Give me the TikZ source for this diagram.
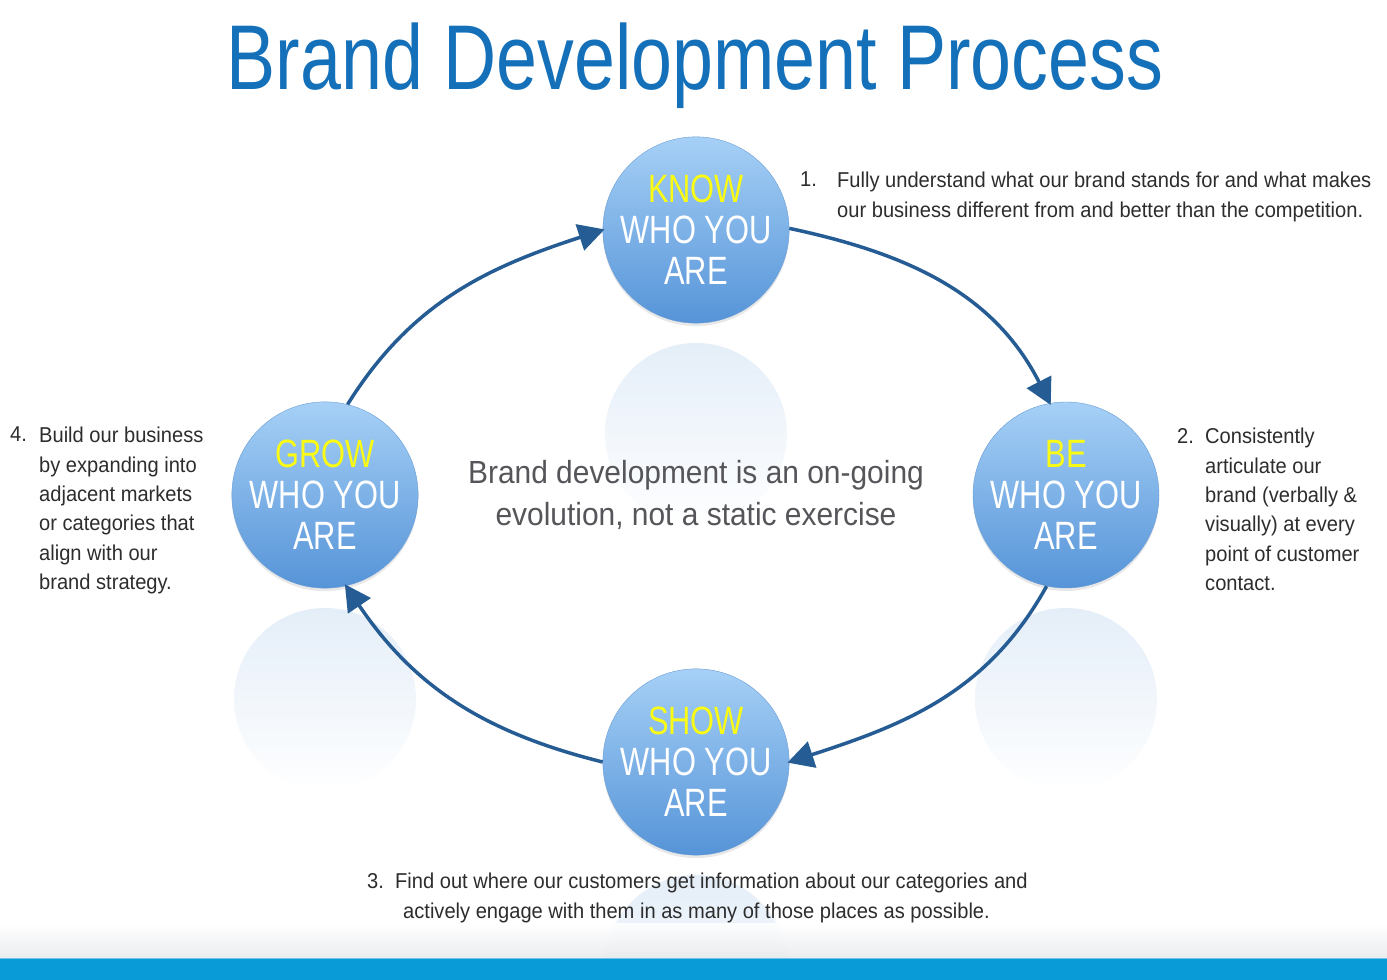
\documentclass[tikz,border=0pt]{standalone}
\usepackage{fontspec}
\setmainfont{Liberation Sans}
\newfontfamily\titlefont[FakeStretch=0.80]{Liberation Sans}
\newfontfamily\stepfont[FakeStretch=0.78]{Liberation Sans}
\newfontfamily\notefont[FakeStretch=0.935]{Liberation Sans}
\usetikzlibrary{arrows.meta,shadows}
\definecolor{bdtitle}{RGB}{20,112,185}
\definecolor{bdflow}{RGB}{38,92,148}
\definecolor{bdtop}{RGB}{166,208,246}
\definecolor{bdbot}{RGB}{86,148,216}
\definecolor{bdline}{RGB}{104,156,214}
\definecolor{bdyellow}{RGB}{250,250,20}
\definecolor{bdnote}{RGB}{45,45,45}
\definecolor{bdmid}{RGB}{85,85,90}
\definecolor{bdbar}{RGB}{8,155,216}
\definecolor{bdbarhi}{RGB}{110,195,232}
\definecolor{bdrefl}{RGB}{222,234,247}
\definecolor{bdfloor}{RGB}{232,234,236}
\newcommand{\hl}[1]{\textcolor{bdyellow}{#1}}
\tikzset{
  bstep/.style={circle, minimum size=186pt, inner sep=0pt, draw=bdline, thin,
    top color=bdtop, bottom color=bdbot, text=white, align=center,
    font=\stepfont\fontsize{39.5}{41}\selectfont,
    drop shadow={opacity=0.18, shadow xshift=0pt, shadow yshift=-3pt}},
  bflow/.style={draw=bdflow, line width=3.5pt, -{Triangle[length=26pt,width=27pt]}, shorten >=-2pt},
  bnote/.style={font=\notefont\fontsize{21.5}{29.4}\selectfont, text=bdnote, inner sep=0pt, anchor=north west, align=left},
  brefl/.style={top color=bdrefl, middle color=white, bottom color=white, opacity=0.8}
}

\begin{document}
\begin{tikzpicture}[x=1pt, y=1pt]
    \useasboundingbox (0,0) rectangle (1387,980);
    \fill[white] (0,0) rectangle (1387,980);
    % reflections
    \foreach \cx/\cy in {696/750, 1066/485, 696/218, 325/485}
      \shade[brefl] (\cx,\cy-204) circle (91);
    % floor and bottom bar
    \shade[top color=white, bottom color=bdfloor, opacity=0.85] (0,22) rectangle (1387,56);
    \fill[bdbar] (0,0) rectangle (1387,22);
    \fill[bdbarhi] (0,20.5) rectangle (1387,22);
    % title
    \node[font=\titlefont\fontsize{92}{100}\selectfont, text=bdtitle, inner sep=0pt] (title) at (695,914) {Brand Development Process};
    % steps
    \node[bstep] (know) at (696,750) {\hl{KNOW}\\WHO YOU\\ARE};
    \node[bstep] (be)   at (1066,485) {\hl{BE}\\WHO YOU\\ARE};
    \node[bstep] (show) at (696,218) {\hl{SHOW}\\WHO YOU\\ARE};
    \node[bstep] (grow) at (325,485) {\hl{GROW}\\WHO YOU\\ARE};
    % cycle
    \draw[bflow] (grow.76) to[out=58, in=198] (know.west);
    \draw[bflow] (know.1) to[out=-12, in=117] (be.100);
    \draw[bflow] (be.258) to[out=-119, in=18] (show.east);
    \draw[bflow] (show.west) to[out=166, in=-56] (grow.283);
    % centre text
    \node[font=\notefont\fontsize{32}{42}\selectfont, text=bdmid, align=center, inner sep=0pt, anchor=north] (cycle) at (696,520)
      {Brand development is an on-going\\evolution, not a static exercise};
    % notes
    \node[bnote] (n1) at (800,808) {1.};
    \node[bnote] (t1) at (837,808) {Fully understand what our brand stands for and what makes\\
      our business different from and better than the competition.};
    \node[bnote] (n2) at (1177,552) {2.};
    \node[bnote] (t2) at (1205,552) {Consistently\\articulate our\\brand (verbally \&\\visually) at every\\point of customer\\contact.};
    \node[bnote] (n3) at (367,107) {3.};
    \node[bnote] (t3) at (395,107) {Find out where our customers get information about our categories and\\
      \hspace{8pt}actively engage with them in as many of those places as possible.};
    \node[bnote] (n4) at (10,553) {4.};
    \node[bnote] (t4) at (39,553) {Build our business\\by expanding into\\adjacent markets\\or categories that\\align with our\\brand strategy.};
  \end{tikzpicture}
\end{document}
